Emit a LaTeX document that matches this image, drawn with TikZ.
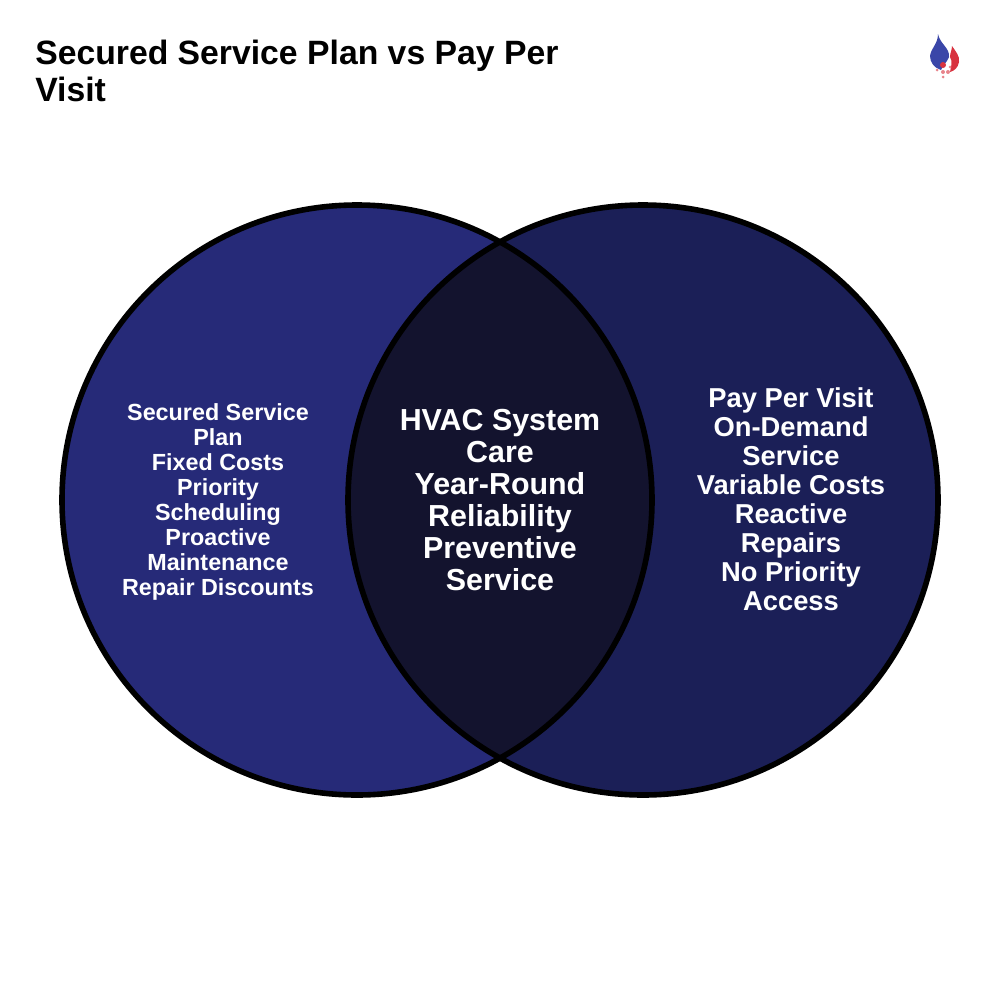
\documentclass[tikz,border=0pt]{standalone}
\usepackage{fontspec}
\setmainfont{Liberation Sans}
\definecolor{planblue}{HTML}{262A78}
\definecolor{visitblue}{HTML}{1B1F57}
\definecolor{lensblue}{HTML}{13132E}
\definecolor{flameblue}{HTML}{3A46A8}
\definecolor{flamered}{HTML}{D8323F}
\tikzset{
	ring/.style = {circle, draw=black, line width=4.2pt, minimum size=442.5pt, inner sep=0pt},
	lefttext/.style = {align=center, text=white, font=\fontsize{17.5}{18.75}\selectfont\bfseries},
	midtext/.style = {align=center, text=white, font=\fontsize{22.8}{24}\selectfont\bfseries},
	righttext/.style = {align=center, text=white, font=\fontsize{20.5}{21.75}\selectfont\bfseries},
	titletext/.style = {align=left, anchor=north west, inner sep=0pt, font=\fontsize{25.3}{27.75}\selectfont\bfseries}
}
\begin{document}
\begin{tikzpicture}[x=0.75pt,y=-0.75pt]
	\useasboundingbox (0,0) rectangle (1000,1000);
	\coordinate (lc) at (357,500);
	\coordinate (rc) at (643,500);
	% circles
	\fill[planblue] (lc) circle (295);
	\fill[visitblue] (rc) circle (295);
	\begin{scope}
		\clip (lc) circle (295);
		\fill[lensblue] (rc) circle (295);
	\end{scope}
	\node[ring] (planring) at (lc) {};
	\node[ring] (visitring) at (rc) {};
	% labels
	\node[lefttext] (plantext) at (218,502) {Secured Service\\Plan\\Fixed Costs\\Priority\\Scheduling\\Proactive\\Maintenance\\Repair Discounts};
	\node[midtext] (caretext) at (500,500) {HVAC System\\Care\\Year-Round\\Reliability\\Preventive\\Service};
	\node[righttext] (visittext) at (791,499) {Pay Per Visit\\On-Demand\\Service\\Variable Costs\\Reactive\\Repairs\\No Priority\\Access};
	\node[titletext] (title) at (35,40) {Secured Service Plan vs Pay Per\\Visit};
	% logo
	\fill[flameblue] (938,34) .. controls (940,44) and (950,48) .. (949,57) .. controls (947,62) and (944,64) .. (941,70) .. controls (934,68) and (930,62) .. (930,56) .. controls (931,48) and (938,44) .. (938,34) -- cycle;
	\fill[flamered] (952,46) .. controls (956,52) and (960,56) .. (959,62) .. controls (958,68) and (954,71) .. (950,72) .. controls (951,66) and (953,62) .. (950,57) .. controls (950,53) and (952,50) .. (952,46) -- cycle;
	\fill[flamered] (943,65) circle (3);
	\fill[flamered!60] (937,70) circle (1.5) (950,67) circle (1.5) (948,72) circle (2) (943,72) circle (2) (943,77) circle (1.5);
\end{tikzpicture}
\end{document}
